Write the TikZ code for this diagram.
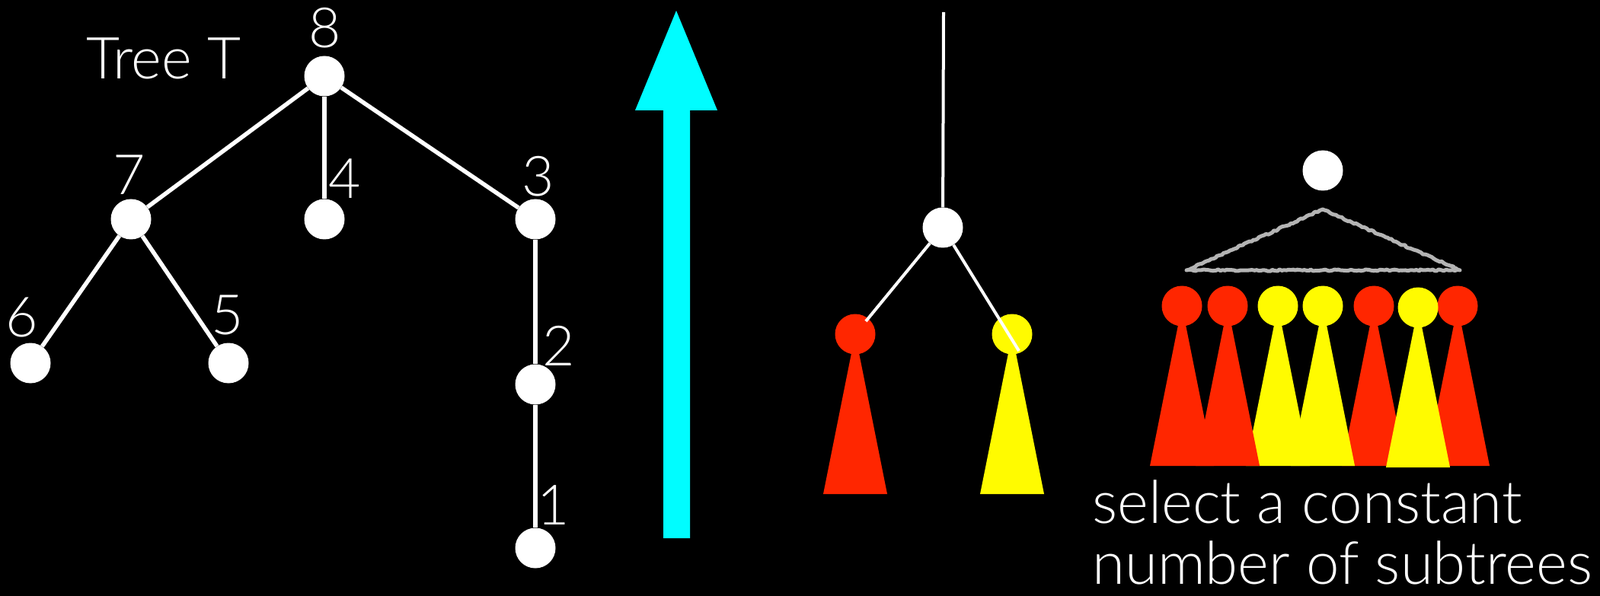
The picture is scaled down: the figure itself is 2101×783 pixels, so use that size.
\documentclass[tikz,border=0pt]{standalone}
\usepackage{fontspec}
\setmainfont{Lato Light}
\usetikzlibrary{decorations.pathmorphing}
\definecolor{pred}{RGB}{255,38,0}
\definecolor{pyel}{RGB}{255,251,0}
\definecolor{pcyan}{RGB}{0,253,255}
\definecolor{tgray}{RGB}{180,180,180}
\newcommand\drawpawn[4]{%
  \fill[#3] (#1,#2) -- ++(-42,210) -- ++(84,0) -- cycle;
  \node[circle,fill=#3,minimum size=53pt,inner sep=0pt] (#4) at (#1,#2) {};
}
\begin{document}
\begin{tikzpicture}[x=1pt,y=-1pt,
  vert/.style={circle,fill=white,minimum size=53pt,inner sep=0pt},
  edge/.style={white,line width=5.5pt},
  thinedge/.style={white,line width=4pt},
  lab/.style={text=white,font=\fontsize{73}{73}\selectfont,inner sep=0pt},
  titletext/.style={text=white,font=\fontsize{76}{80}\selectfont,inner sep=0pt},
  bigtext/.style={text=white,font=\fontsize{78}{80}\selectfont,inner sep=0pt}
]
\fill[black] (0,0) rectangle (2101,783);
\useasboundingbox (0,0) rectangle (2101,783);

% ---- Tree T ----
\node[vert] (n8) at (426,100) {};
\node[vert] (n7) at (172,288) {};
\node[vert] (n4) at (426,288) {};
\node[vert] (n3) at (703,288) {};
\node[vert] (n6) at (40,477) {};
\node[vert] (n5) at (300,477) {};
\node[vert] (n2) at (703,505) {};
\node[vert] (n1) at (703,720) {};
\draw[edge] (n8) -- (n7);
\draw[edge] (n8) -- (n4);
\draw[edge] (n8) -- (n3);
\draw[edge] (n7) -- (n6);
\draw[edge] (n7) -- (n5);
\draw[edge] (n3) -- (n2);
\draw[edge] (n2) -- (n1);

\node[lab] (l8) at (427,37) {8};
\node[lab] (l7) at (170,230) {7};
\node[lab] (l4) at (453,235) {4};
\node[lab] (l3) at (707,232) {3};
\node[lab] (l6) at (29,417) {6};
\node[lab] (l5) at (299,414) {5};
\node[lab] (l2) at (734,454) {2};
\node[lab] (l1) at (727,664) {1};
\node[titletext] (title) at (215,77) {Tree T};

% ---- cyan arrow ----
\fill[pcyan] (871,707) -- (871,145) -- (834,145) -- (888,14) -- (942,145)
  -- (906,145) -- (906,707) -- cycle;

% ---- middle tree ----
\coordinate (top) at (1239,16);
\node[vert] (m) at (1238,299) {};
\drawpawn{1123}{439}{pred}{rc}
\drawpawn{1329}{439}{pyel}{yc}
\coordinate (rcend) at (1137,422);
\coordinate (ycend) at (1338,461);
\draw[thinedge] (top) -- (m);
\draw[thinedge] (m) -- (rcend);
\draw[thinedge] (m) -- (ycend);

% ---- right cluster ----
\node[vert] (r) at (1737,224) {};
\draw[tgray,line width=5pt,line join=round,decorate,
  decoration={random steps,segment length=3pt,amplitude=1.1pt}]
  (1737,275) -- (1917,355) -- (1558,355) -- cycle;
\drawpawn{1914}{402}{pred}{p7}
\drawpawn{1804}{402}{pred}{p5}
\drawpawn{1862}{404}{pyel}{p6}
\drawpawn{1678}{402}{pyel}{p3}
\drawpawn{1737}{402}{pyel}{p4}
\drawpawn{1552}{402}{pred}{p1}
\drawpawn{1612}{402}{pred}{p2}

\node[bigtext,anchor=base west] (s1) at (1434,687) {select a constant};
\node[bigtext,anchor=base west] (s2) at (1434,767) {number of subtrees};
\end{tikzpicture}
\end{document}
